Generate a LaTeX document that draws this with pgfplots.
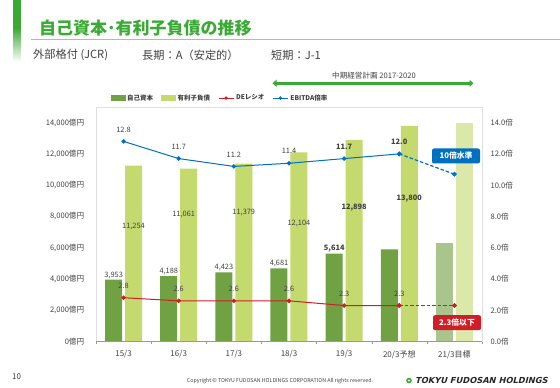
\documentclass[border=0pt]{standalone}
\usepackage{pgfplots}
\pgfplotsset{compat=1.18}
\usetikzlibrary{arrows.meta}
\usepackage{fontspec}
\setmainfont{Noto Sans CJK JP}
\newfontfamily\logofont[FakeSlant=0.25]{DejaVu Sans}
\definecolor{dg}{HTML}{70A244}
\definecolor{lg}{HTML}{C4D96E}
\definecolor{dgp}{HTML}{A9C48D}
\definecolor{lgp}{HTML}{DCE8A9}
\definecolor{dered}{HTML}{D01E26}
\definecolor{eblue}{HTML}{0070C0}
\definecolor{tgreen}{HTML}{3BAA35}
\definecolor{txt}{HTML}{404040}
\newcommand{\tk}{\fontsize{7.6}{8}\selectfont}
\newcommand{\lb}{\fontsize{7.4}{8}\selectfont}
\begin{document}
\begin{tikzpicture}[x=1pt,y=1pt]
\path[use as bounding box] (0,0) rectangle (560,388);
% header
\fill[tgreen] (13,388) rectangle (20.5,360);
\shade[top color=tgreen, bottom color=white] (13,360) rectangle (20.5,326);
\node[anchor=west, inner sep=0, text=tgreen, font=\bfseries\fontsize{17}{17}\selectfont] at (39,360) {自己資本･有利子負債の推移};
\draw[line width=1.6pt, color=tgreen!55] (31,348.3) -- (560,348.3);
\node[anchor=west, inner sep=0, text=txt, font=\fontsize{11.2}{11}\selectfont] at (33,333) {外部格付 (JCR)};
\node[anchor=west, inner sep=0, text=txt, font=\fontsize{11.2}{11}\selectfont] at (142,333) {長期：A（安定的）};
\node[anchor=west, inner sep=0, text=txt, font=\fontsize{11.2}{11}\selectfont] at (271,333) {短期：J-1};
% mid-term plan
\node[inner sep=0, text=txt, font=\fontsize{7.6}{8}\selectfont] at (374,312.5) {中期経営計画 2017-2020};
\draw[tgreen, line width=2.6pt, {Triangle[width=7pt,length=4pt]}-{Triangle[width=7pt,length=4pt]}] (272.5,304.7) -- (473.5,304.7);

\begin{axis}[
  at={(96pt,46.5pt)}, anchor=south west,
  width=386pt, height=234.5pt, scale only axis,
  xmin=-0.5, xmax=6.5, ymin=0, ymax=15000, enlargelimits=false,
  axis line style={draw=none},
  xtick={0,...,6},
  xticklabels={15/3,16/3,17/3,18/3,19/3,20/3予想,21/3目標},
  major x tick style={draw=none},
  minor xtick={-0.5,0.5,...,6.5},
  minor x tick style={draw=gray!80, thin},
  minor tick length=3pt, tick align=outside, xtick pos=bottom,
  xticklabel style={font=\fontsize{8}{8}\selectfont, text=txt, yshift=-1pt},
  ytick={0,2000,...,14000},
  scaled y ticks=false,
  ytick pos=left, major y tick style={draw=none},
  yticklabel={\pgfmathprintnumber{\tick}億円},
  yticklabel style={font=\tk, text=txt, xshift=-4pt},
  /pgf/number format/1000 sep={,},
  /pgf/number format/assume math mode=true,
  legend style={at={(rel axis cs:0.03,1.038)}, anchor=west, legend columns=4, draw=none, fill=none,
    font=\bfseries\fontsize{6.5}{7}\selectfont, text=txt,
    /tikz/every even column/.append style={column sep=6pt},
    /tikz/every odd column/.append style={column sep=0pt}},
  legend cell align=left,
  after end axis/.code={
    \draw[gray!25] (rel axis cs:0,0) rectangle (rel axis cs:1,1);
    \draw[gray!80] (rel axis cs:0,0) -- (rel axis cs:1,0);
  },
]
\addlegendimage{legend image code/.code={\fill[dg] (0pt,-2.5pt) rectangle (14pt,2.5pt);}}
\addlegendentry{自己資本}
\addlegendimage{legend image code/.code={\fill[lg] (0pt,-2.5pt) rectangle (14pt,2.5pt);}}
\addlegendentry{有利子負債}
\addlegendimage{legend image code/.code={\draw[dered, line width=1pt] (0pt,0pt) -- (15pt,0pt); \fill[dered] (7.5pt,0pt) circle (1.5pt);}}
\addlegendentry{DEレシオ}
\addlegendimage{legend image code/.code={\draw[eblue, line width=1pt] (0pt,0pt) -- (15pt,0pt); \fill[eblue] (7.5pt,0pt) circle (1.5pt);}}
\addlegendentry{EBITDA倍率}
% 自己資本
\addplot[ybar, bar width=17pt, bar shift=-10pt, fill=dg, draw=none, forget plot]
  coordinates {(0,3953) (1,4188) (2,4423) (3,4681) (4,5614) (5,5900)};
\addplot[ybar, bar width=17pt, bar shift=-10pt, fill=dgp, draw=none, forget plot]
  coordinates {(6,6300)};
% 有利子負債
\addplot[ybar, bar width=17pt, bar shift=10pt, fill=lg, draw=none, forget plot]
  coordinates {(0,11254) (1,11061) (2,11379) (3,12104) (4,12898) (5,13800)};
\addplot[ybar, bar width=17pt, bar shift=10pt, fill=lgp, draw=none, forget plot]
  coordinates {(6,14000)};
% labels
\addplot[draw=none, mark=none, forget plot, point meta=explicit symbolic, nodes near coords,
  nodes near coords style={font=\lb, text=txt, anchor=south, inner sep=1pt}]
  coordinates {(-0.18,3953)[3,953] (0.82,4188)[4,188] (1.82,4423)[4,423] (2.82,4681)[4,681] (3.82,5614)[\textbf{5,614}]};
\addplot[draw=none, mark=none, forget plot, point meta=explicit symbolic, nodes near coords,
  nodes near coords style={font=\lb, text=txt, anchor=center, inner sep=0pt}]
  coordinates {(0.18,7340)[11,254] (1.09,8140)[11,061] (2.18,8270)[11,379] (3.18,7560)[12,104] (4.18,8590)[\textbf{12,898}] (5.18,9140)[\textbf{13,800}]};
\end{axis}

\begin{axis}[
  at={(96pt,46.5pt)}, anchor=south west,
  width=386pt, height=234.5pt, scale only axis,
  xmin=-0.5, xmax=6.5, ymin=0, ymax=15, enlargelimits=false,
  axis x line=none, axis y line*=right,
  axis line style={draw=none},
  ytick={0,2,...,14}, major y tick style={draw=none},
  yticklabel={\pgfmathprintnumber[fixed,fixed zerofill,precision=1]{\tick}倍},
  yticklabel style={font=\tk, text=txt, xshift=5pt},
  /pgf/number format/assume math mode=true,
]
\addplot[dered, line width=1pt, mark=*, mark size=1.7pt, point meta=explicit symbolic, nodes near coords,
  nodes near coords style={font=\lb, text=txt, anchor=center, yshift=11.5pt}]
  coordinates {(0,2.8)[2.8] (1,2.6)[2.6] (2,2.6)[2.6] (3,2.6)[2.6] (4,2.3)[2.3] (5,2.3)[2.3]};
\addplot[draw=dered, color=dered, line width=1.3pt, dash pattern=on 3.5pt off 2pt, mark=*, mark size=1.7pt, mark options={solid, fill=dered, draw=dered}]
  coordinates {(5,2.3) (6,2.3)};
\addplot[eblue, line width=1pt, mark=*, mark size=1.7pt, point meta=explicit symbolic, nodes near coords,
  nodes near coords style={font=\lb, text=txt, anchor=center, yshift=12pt}]
  coordinates {(0,12.8)[12.8] (1,11.7)[11.7] (2,11.2)[11.2] (3,11.4)[11.4] (4,11.7)[\textbf{11.7}] (5,12.0)[\textbf{12.0}]};
\addplot[eblue, line width=1.2pt, dash pattern=on 3.5pt off 2pt, mark=*, mark size=1.7pt, mark options={solid, fill=eblue, draw=eblue}]
  coordinates {(5,12.0) (6,10.7)};
\end{axis}

% annotations
\node[fill=eblue, rounded corners=2pt, text=white, font=\bfseries\fontsize{7.8}{8}\selectfont, minimum width=48pt, minimum height=15pt, inner sep=1pt] at (456,232) {10倍水準};
\node[fill=dered, rounded corners=2pt, text=white, font=\bfseries\fontsize{7.8}{8}\selectfont, minimum width=48pt, minimum height=15pt, inner sep=1pt] at (457,65.3) {2.3倍以下};
% footer
\node[anchor=west, inner sep=0, text=txt, font=\fontsize{8}{8}\selectfont] at (12,11) {10};
\node[inner sep=0, text=txt, font=\fontsize{5.3}{6}\selectfont] at (280,7) {Copyright © TOKYU FUDOSAN HOLDINGS CORPORATION All rights reserved.};
\fill[tgreen] (409,7.5) circle (2.8pt);
\fill[white] (409,7.5) circle (1.2pt);
\node[anchor=west, inner sep=0, text=black!85, font=\logofont\bfseries\fontsize{8.3}{9}\selectfont] at (415,7.5) {TOKYU FUDOSAN HOLDINGS};
\end{tikzpicture}
\end{document}
